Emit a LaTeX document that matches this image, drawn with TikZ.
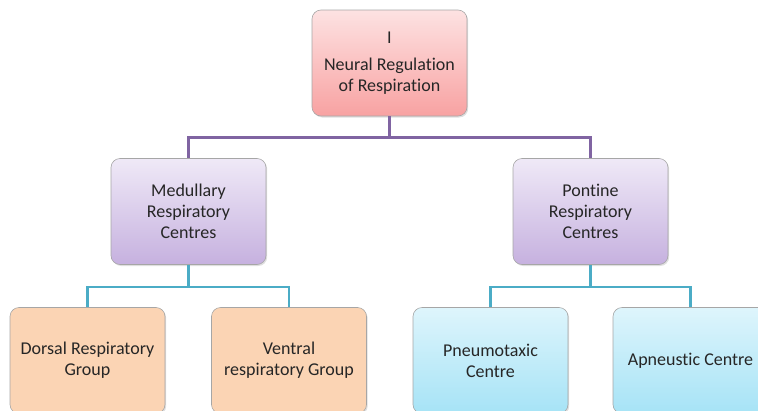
\documentclass[tikz,border=0pt]{standalone}
\usepackage{fontspec}
\setmainfont{Carlito}[Ligatures=NoCommon]
\usetikzlibrary{shadows}
\definecolor{txtgray}{HTML}{262626}
\definecolor{linepurple}{HTML}{8064A2}
\definecolor{lineblue}{HTML}{4BACC6}
\definecolor{roottop}{HTML}{FDE2E2}
\definecolor{rootbot}{HTML}{F8A2A2}
\definecolor{midtop}{HTML}{EFE9F7}
\definecolor{midbot}{HTML}{C6B1DF}
\definecolor{peach}{HTML}{FBD4B4}
\definecolor{skytop}{HTML}{DEF5FC}
\definecolor{skybot}{HTML}{A6E3F6}
\tikzset{
	box/.style={draw=black!35, line width=0.6pt, rounded corners=9pt,
		minimum width=155pt, minimum height=106pt, align=center, text=txtgray,
		font=\fontsize{18}{21}\selectfont,
		drop shadow={opacity=0.25, shadow xshift=1.2pt, shadow yshift=-1.5pt}},
	rootbox/.style={box, top color=roottop, bottom color=rootbot},
	midbox/.style={box, top color=midtop, bottom color=midbot},
	peachbox/.style={box, fill=peach},
	cyanbox/.style={box, top color=skytop, bottom color=skybot},
	purplelink/.style={draw=linepurple, line width=2.4pt},
	bluelink/.style={draw=lineblue, line width=2.4pt}
}
\begin{document}
\begin{tikzpicture}[x=1pt, y=-1pt]
		%%%%% START %%%%%
		\useasboundingbox (0, 0) rectangle (758, 410);
		
		% top
		\node[rootbox] (neural) at (389.5, 63) {I\\[6pt]Neural Regulation\\of Respiration};
		
		% centres
		\node[midbox] (medullary) at (188.5, 211.5) {Medullary\\Respiratory\\Centres};
		\node[midbox] (pontine) at (590.5, 211.5) {Pontine\\Respiratory\\Centres};
		
		% groups
		\node[peachbox] (dorsal) at (87.5, 360.5) {Dorsal Respiratory\\Group};
		\node[peachbox] (ventral) at (289, 360.5) {Ventral\\respiratory Group};
		\node[cyanbox] (pneumo) at (490.5, 360.5) {Pneumotaxic\\Centre};
		\node[cyanbox] (apneu) at (690.5, 360.5) {Apneustic Centre};
		
		% links
		\draw[purplelink] (neural.south) -- ++(0, 21) -| (medullary.north);
		\draw[purplelink] (neural.south) -- ++(0, 21) -| (pontine.north);
		\draw[bluelink] (medullary.south) -- ++(0, 22) -| (dorsal.north);
		\draw[bluelink] (medullary.south) -- ++(0, 22) -| (ventral.north);
		\draw[bluelink] (pontine.south) -- ++(0, 22) -| (pneumo.north);
		\draw[bluelink] (pontine.south) -- ++(0, 22) -| (apneu.north);
		
		%%%%% END %%%%%
\end{tikzpicture}
\end{document}
